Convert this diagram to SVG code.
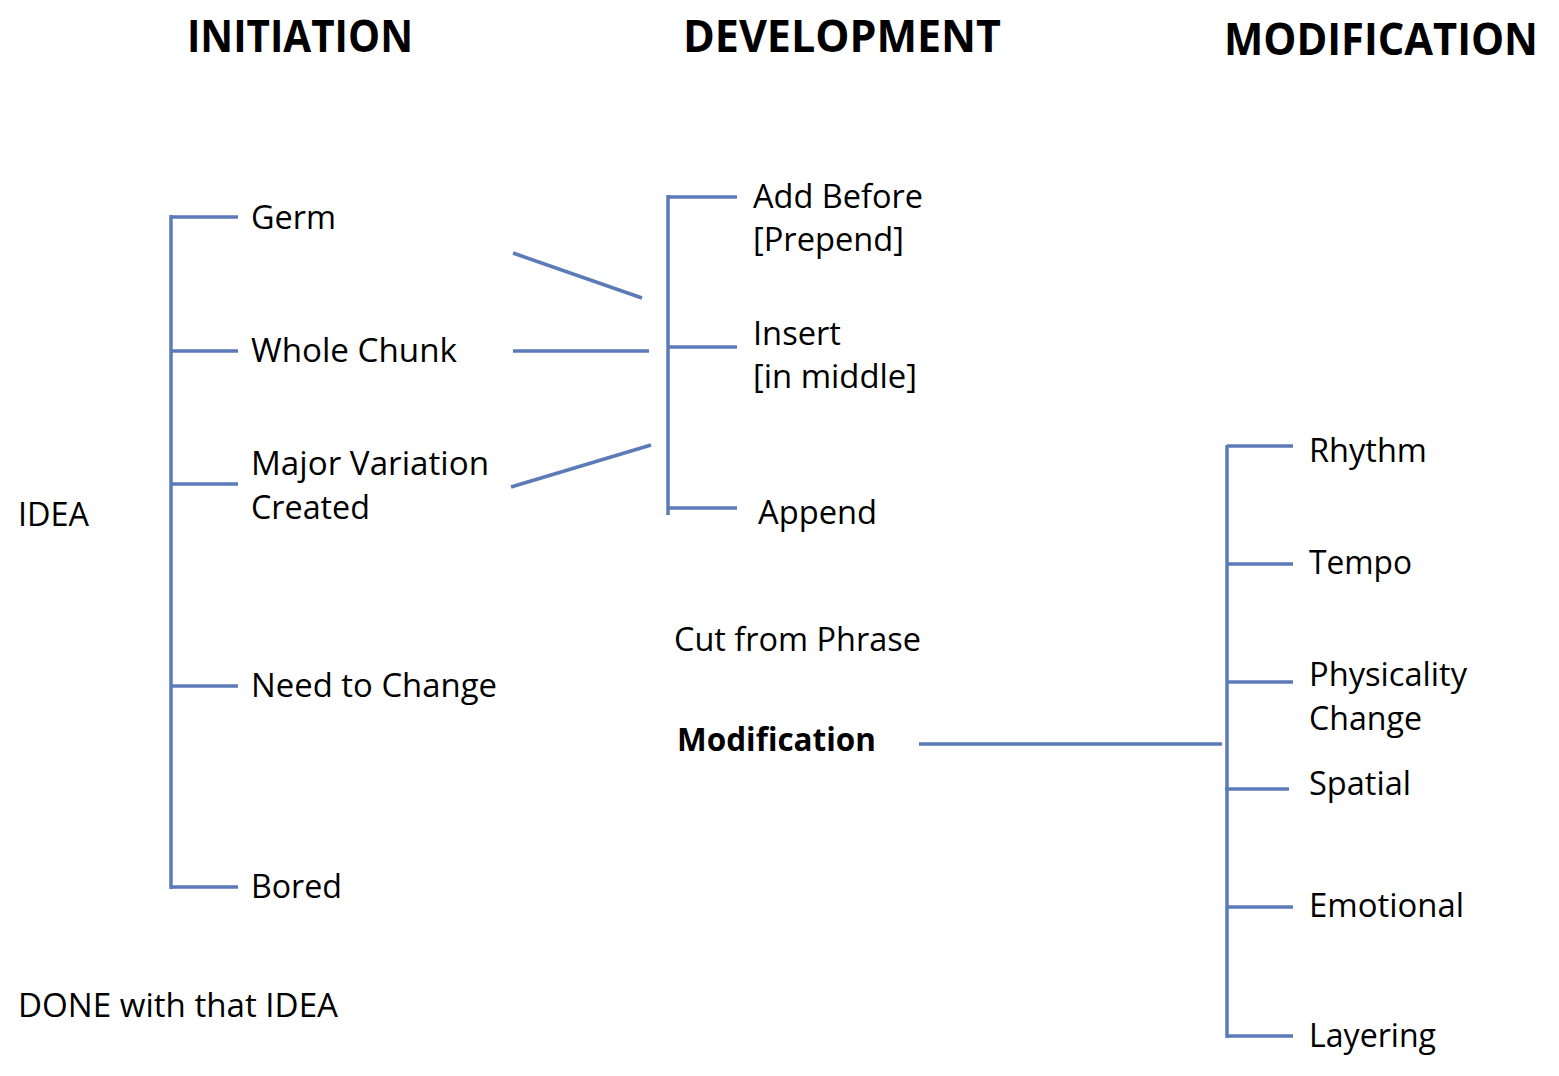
<svg xmlns="http://www.w3.org/2000/svg" width="1559" height="1076" viewBox="0 0 1559 1076">
<style>
.t{font-family:"Open Sans","Liberation Sans",sans-serif;font-size:33px;fill:#000}
.h{font-family:"Open Sans","Liberation Sans",sans-serif;font-size:44px;font-weight:bold;fill:#000}
.b{font-weight:bold}
.c line{stroke:#5A7BB8;stroke-width:3.5;stroke-linecap:butt}
</style>
<rect width="1559" height="1076" fill="#fff"/>
<g id="headers">
<text class="h" x="187" y="52" textLength="226" lengthAdjust="spacingAndGlyphs">INITIATION</text>
<text class="h" x="683" y="52" textLength="318" lengthAdjust="spacingAndGlyphs">DEVELOPMENT</text>
<text class="h" x="1224" y="55" textLength="314" lengthAdjust="spacingAndGlyphs">MODIFICATION</text>
</g>
<g id="idea"><text class="t" x="18" y="526" textLength="71" lengthAdjust="spacingAndGlyphs">IDEA</text></g>
<g id="done"><text class="t" x="18" y="1017" textLength="320" lengthAdjust="spacingAndGlyphs">DONE with that IDEA</text></g>
<g id="germ"><text class="t" x="251" y="229" textLength="85" lengthAdjust="spacingAndGlyphs">Germ</text></g>
<g id="whole-chunk"><text class="t" x="251" y="362" textLength="206" lengthAdjust="spacingAndGlyphs">Whole Chunk</text></g>
<g id="major-variation"><text class="t" x="251" y="475" textLength="238" lengthAdjust="spacingAndGlyphs">Major Variation</text><text class="t" x="251" y="519" textLength="119" lengthAdjust="spacingAndGlyphs">Created</text></g>
<g id="need-to-change"><text class="t" x="251" y="697" textLength="246" lengthAdjust="spacingAndGlyphs">Need to Change</text></g>
<g id="bored"><text class="t" x="251" y="898" textLength="91" lengthAdjust="spacingAndGlyphs">Bored</text></g>
<g id="add-before"><text class="t" x="753" y="208" textLength="170" lengthAdjust="spacingAndGlyphs">Add Before</text><text class="t" x="753" y="251" textLength="151" lengthAdjust="spacingAndGlyphs">[Prepend]</text></g>
<g id="insert"><text class="t" x="753" y="345" textLength="88" lengthAdjust="spacingAndGlyphs">Insert</text><text class="t" x="753" y="388" textLength="164" lengthAdjust="spacingAndGlyphs">[in middle]</text></g>
<g id="append"><text class="t" x="758" y="524" textLength="119" lengthAdjust="spacingAndGlyphs">Append</text></g>
<g id="cut-from-phrase"><text class="t" x="674" y="651" textLength="247" lengthAdjust="spacingAndGlyphs">Cut from Phrase</text></g>
<g id="modification"><text class="t b" x="677" y="751" textLength="199" lengthAdjust="spacingAndGlyphs">Modification</text></g>
<g id="rhythm"><text class="t" x="1309" y="462" textLength="118" lengthAdjust="spacingAndGlyphs">Rhythm</text></g>
<g id="tempo"><text class="t" x="1309" y="574" textLength="103" lengthAdjust="spacingAndGlyphs">Tempo</text></g>
<g id="physicality"><text class="t" x="1309" y="686" textLength="158" lengthAdjust="spacingAndGlyphs">Physicality</text><text class="t" x="1309" y="730" textLength="113" lengthAdjust="spacingAndGlyphs">Change</text></g>
<g id="spatial"><text class="t" x="1309" y="795" textLength="102" lengthAdjust="spacingAndGlyphs">Spatial</text></g>
<g id="emotional"><text class="t" x="1309" y="917" textLength="155" lengthAdjust="spacingAndGlyphs">Emotional</text></g>
<g id="layering"><text class="t" x="1309" y="1047" textLength="127" lengthAdjust="spacingAndGlyphs">Layering</text></g>
<g id="connectors" class="c">
<line x1="171" y1="215" x2="171" y2="889"/>
<line x1="171" y1="217" x2="238" y2="217"/>
<line x1="171" y1="351" x2="238" y2="351"/>
<line x1="171" y1="484" x2="238" y2="484"/>
<line x1="171" y1="686" x2="238" y2="686"/>
<line x1="171" y1="887" x2="238" y2="887"/>
<line x1="513" y1="253" x2="642" y2="298"/>
<line x1="513" y1="351" x2="649" y2="351"/>
<line x1="511" y1="487" x2="651" y2="445"/>
<line x1="668" y1="195" x2="668" y2="515"/>
<line x1="668" y1="197" x2="737" y2="197"/>
<line x1="668" y1="347" x2="737" y2="347"/>
<line x1="668" y1="508" x2="737" y2="508"/>
<line x1="919" y1="744" x2="1222" y2="744"/>
<line x1="1227" y1="445" x2="1227" y2="1038"/>
<line x1="1227" y1="446" x2="1293" y2="446"/>
<line x1="1227" y1="564" x2="1293" y2="564"/>
<line x1="1227" y1="682" x2="1293" y2="682"/>
<line x1="1225" y1="789" x2="1289" y2="789"/>
<line x1="1227" y1="907" x2="1293" y2="907"/>
<line x1="1227" y1="1036" x2="1293" y2="1036"/>
</g>
</svg>
